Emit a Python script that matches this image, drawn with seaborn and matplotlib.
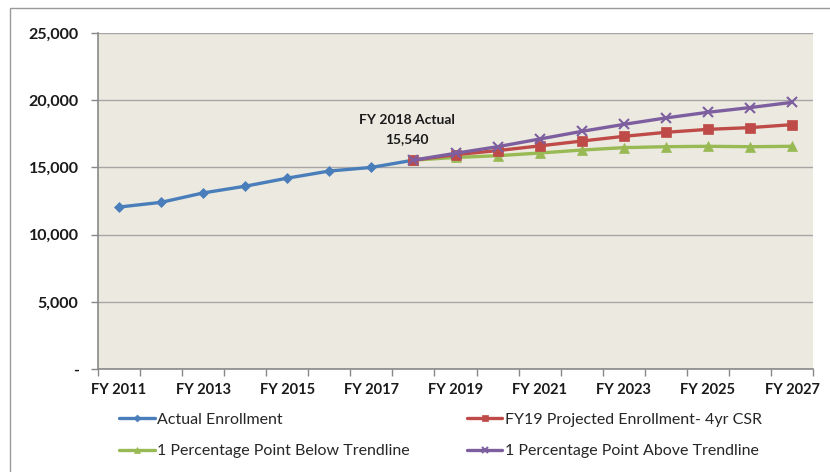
import matplotlib
matplotlib.use("Agg")
import matplotlib.pyplot as plt
import matplotlib.patches as mpatches
import seaborn as sns
import pandas as pd
import numpy as np

years = ["FY 2011", "FY 2012", "FY 2013", "FY 2014", "FY 2015", "FY 2016", "FY 2017",
         "FY 2018", "FY 2019", "FY 2020", "FY 2021", "FY 2022", "FY 2023", "FY 2024",
         "FY 2025", "FY 2026", "FY 2027"]
actual_years = years[:8]
actual = [12050, 12400, 13100, 13600, 14200, 14730, 15000, 15540]
proj_years = years[7:]
projected = [15540, 15950, 16250, 16600, 16960, 17310, 17610, 17830, 17960, 18180]
below = [15540, 15740, 15870, 16070, 16290, 16470, 16540, 16570, 16540, 16570]
above = [15540, 16050, 16540, 17110, 17680, 18200, 18680, 19100, 19450, 19840]

names = ["Actual Enrollment", "FY19 Projected Enrollment- 4yr CSR",
         "1 Percentage Point Below Trendline", "1 Percentage Point Above Trendline"]
colors = ["#4A7EBB", "#BE4B48", "#98B954", "#7D5FA0"]
markers = ["D", "s", "^", "x"]
msizes = [5, 7, 7, 7]

frames = [pd.DataFrame({"year": actual_years, "value": actual, "series": names[0]}),
          pd.DataFrame({"year": proj_years, "value": projected, "series": names[1]}),
          pd.DataFrame({"year": proj_years, "value": below, "series": names[2]}),
          pd.DataFrame({"year": proj_years, "value": above, "series": names[3]})]
df = pd.concat(frames, ignore_index=True)
df["x"] = df["year"].map({y: i for i, y in enumerate(years)})

sns.set_theme(style="white")
plt.rcParams["font.family"] = ["Lato", "DejaVu Sans"]

fig = plt.figure(figsize=(8.3, 4.72), dpi=100)
ax = fig.add_axes([98/830, 1-369/472, (813-98)/830, (369-33)/472])
ax.set_facecolor("#ECEAE0")

order = [0, 2, 1, 3]
for i in order:
    sub = df[df["series"] == names[i]]
    sns.lineplot(data=sub, x="x", y="value", ax=ax, color=colors[i], linewidth=2.4,
                 marker=markers[i], markersize=msizes[i], markeredgecolor=colors[i],
                 markeredgewidth=1.5 if markers[i] == "x" else 0.5, label=names[i],
                 sort=False, estimator=None)

ax.set_xlim(-0.5, len(years) - 0.5)
ax.set_ylim(0, 25000)
ax.set_xticks(range(0, len(years), 2))
ax.set_xticklabels(years[::2], fontweight="bold", fontsize=10.5, color="#1a1a1a")
ax.set_xticks(np.arange(-0.5, len(years), 1), minor=True)
ax.tick_params(axis="x", which="major", length=0, pad=10)
ax.tick_params(axis="x", which="minor", length=5, color="#898989", width=1, direction="out", bottom=True)
yt = [0, 5000, 10000, 15000, 20000, 25000]
ax.set_yticks(yt)
ax.set_yticklabels(["-"] + [f"{v:,}" for v in yt[1:]], fontweight="bold", fontsize=11.5, color="#1a1a1a")
ax.tick_params(axis="y", length=5, color="#898989", width=1, direction="out", left=True, pad=9)
ax.grid(axis="y", color="#A6A6A6", linewidth=1)
ax.set_axisbelow(True)
for s in ["top", "right"]:
    ax.spines[s].set_visible(False)
for s in ["left", "bottom"]:
    ax.spines[s].set_color("#898989")
    ax.spines[s].set_linewidth(1.2)
ax.set_xlabel("")
ax.set_ylabel("")

ax.text(6.85, 16650, "FY 2018 Actual\n15,540", ha="center", va="bottom", fontweight="bold",
        fontsize=10, color="#1a1a1a", linespacing=1.75)

handles, labels = ax.get_legend_handles_labels()
hmap = dict(zip(labels, handles))
ax.get_legend().remove()
leg_order = [names[0], names[2], names[1], names[3]]
leg = fig.legend([hmap[n] for n in leg_order], leg_order, ncol=2, loc="upper left",
                 bbox_to_anchor=(105/830, 1-398/472), frameon=False, fontsize=11.5,
                 columnspacing=3.6, handlelength=2.2, handletextpad=0.15, labelspacing=1.1,
                 markerscale=0.7)

fig.patches.append(mpatches.Rectangle((10/830, -0.1), 1.2, 1 - 8/472 + 0.1, transform=fig.transFigure,
                                      fill=False, edgecolor="#9a9a9a", linewidth=1))
fig.savefig("out.png", dpi=100, facecolor="white")
